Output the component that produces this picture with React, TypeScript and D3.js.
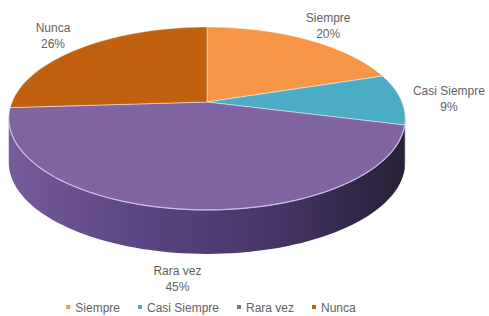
import * as d3 from 'd3';
import React, { useMemo } from 'react';

const categories = ['Siempre', 'Casi Siempre', 'Rara vez', 'Nunca'];
const values = [20, 9, 45, 26];
const topColors = ['#f79646', '#4bacc6', '#8064a2', '#c0610f'];
const sideColors = ['#b86a2c', '#2f8099', '#4f3b70', '#8a4408'];

const WIDTH = 489;
const HEIGHT = 316;
const CX = 207;
const CY = 102;
const RX = 195;
const RY = 88.5;
const PERSP = 0.18; // perspective strength, near edge looks bigger
const DEPTH = 44;
const FONT = '"Liberation Sans", Arial, sans-serif';
const TEXT_COLOR = '#636363';

// project an angle (clockwise from 12 o'clock) on the tilted disc
function proj(theta: number, r = 1, dy = 0): [number, number] {
  const u = r * Math.sin(theta);
  const v = -r * Math.cos(theta);
  const w = 1 / (1 - PERSP * v);
  return [CX + RX * u * w, CY + RY * v * w + dy];
}

function arcPoints(a0: number, a1: number, dy = 0) {
  const n = Math.max(2, Math.ceil(((a1 - a0) / (2 * Math.PI)) * 180));
  return d3.range(n + 1).map(i => proj(a0 + ((a1 - a0) * i) / n, 1, dy));
}

const line = d3.line();

export default function App() {
  const arcs = useMemo(
    () => d3.pie<number>().sort(null).startAngle(0).endAngle(2 * Math.PI)(values),
    []
  );

  // visible part of the outer wall lies between the two widest points
  const vis0 = Math.acos(-PERSP);
  const vis1 = 2 * Math.PI - vis0;

  const sides = arcs.map((a, i) => {
    const s = Math.max(a.startAngle, vis0);
    const e = Math.min(a.endAngle, vis1);
    if (e <= s) return null;
    const pts = [...arcPoints(s, e), ...arcPoints(s, e, DEPTH).reverse()];
    return (
      <path
        key={i}
        d={line(pts) + 'Z'}
        fill={categories[i] === 'Rara vez' ? 'url(#sideGrad)' : sideColors[i]}
      />
    );
  });

  const tops = arcs.map((a, i) => {
    const pts = [[CX, CY] as [number, number], ...arcPoints(a.startAngle, a.endAngle)];
    return (
      <path
        key={i}
        d={line(pts) + 'Z'}
        fill={topColors[i]}
        stroke="#ffffff"
        strokeOpacity={0.45}
        strokeWidth={1}
        strokeLinejoin="round"
      />
    );
  });

  const rim = line(arcPoints(vis0, vis1));

  const labels = arcs.map((a, i) => {
    const mid = (a.startAngle + a.endAngle) / 2;
    const front = Math.max(0, -Math.cos(mid));
    const [x, y] = proj(mid, 1.25, DEPTH * front * 0.8);
    const pct = Math.round((values[i] / d3.sum(values)) * 100);
    return (
      <text key={i} x={x} y={y} textAnchor="middle" fontFamily={FONT} fontSize={12} fill={TEXT_COLOR}>
        <tspan x={x} dy={-4}>{categories[i]}</tspan>
        <tspan x={x} dy={16}>{pct}%</tspan>
      </text>
    );
  });

  // legend laid out from measured text widths
  const legend = useMemo(() => {
    const ctx = document.createElement('canvas').getContext('2d');
    let widths = categories.map(c => c.length * 6.5);
    if (ctx) {
      ctx.font = `12px ${FONT}`;
      widths = categories.map(c => ctx.measureText(c).width);
    }
    const marker = 4;
    const gap = 5;
    const itemGap = 18;
    const itemWidths = widths.map(w => marker + gap + w);
    const total = d3.sum(itemWidths) + itemGap * (categories.length - 1);
    let x = CX + 4 - total / 2;
    return categories.map((c, i) => {
      const item = { x, name: c, color: topColors[i] };
      x += itemWidths[i] + itemGap;
      return item;
    });
  }, []);

  return (
    <svg width={WIDTH} height={HEIGHT} style={{ position: 'absolute', left: 0, top: 0 }}>
      <defs>
        <linearGradient id="sideGrad" gradientUnits="userSpaceOnUse" x1={CX - RX} x2={CX + RX} y1={0} y2={0}>
          <stop offset="0" stopColor="#745b9c" />
          <stop offset="0.35" stopColor="#594380" />
          <stop offset="0.65" stopColor="#48366a" />
          <stop offset="1" stopColor="#282036" />
        </linearGradient>
      </defs>
      <rect width={WIDTH} height={HEIGHT} fill="#ffffff" />
      {sides}
      {tops}
      <path d={rim ?? ''} fill="none" stroke="#cdbde8" strokeWidth={1.2} strokeOpacity={0.85} />
      {labels}
      <g fontFamily={FONT} fontSize={12} fill={TEXT_COLOR}>
        {legend.map((d, i) => (
          <g key={i} transform={`translate(${d.x},309)`}>
            <rect x={0} y={-4} width={4} height={4} fill={d.color} />
            <text x={9} y={0} dominantBaseline="middle">
              {d.name}
            </text>
          </g>
        ))}
      </g>
    </svg>
  );
}
